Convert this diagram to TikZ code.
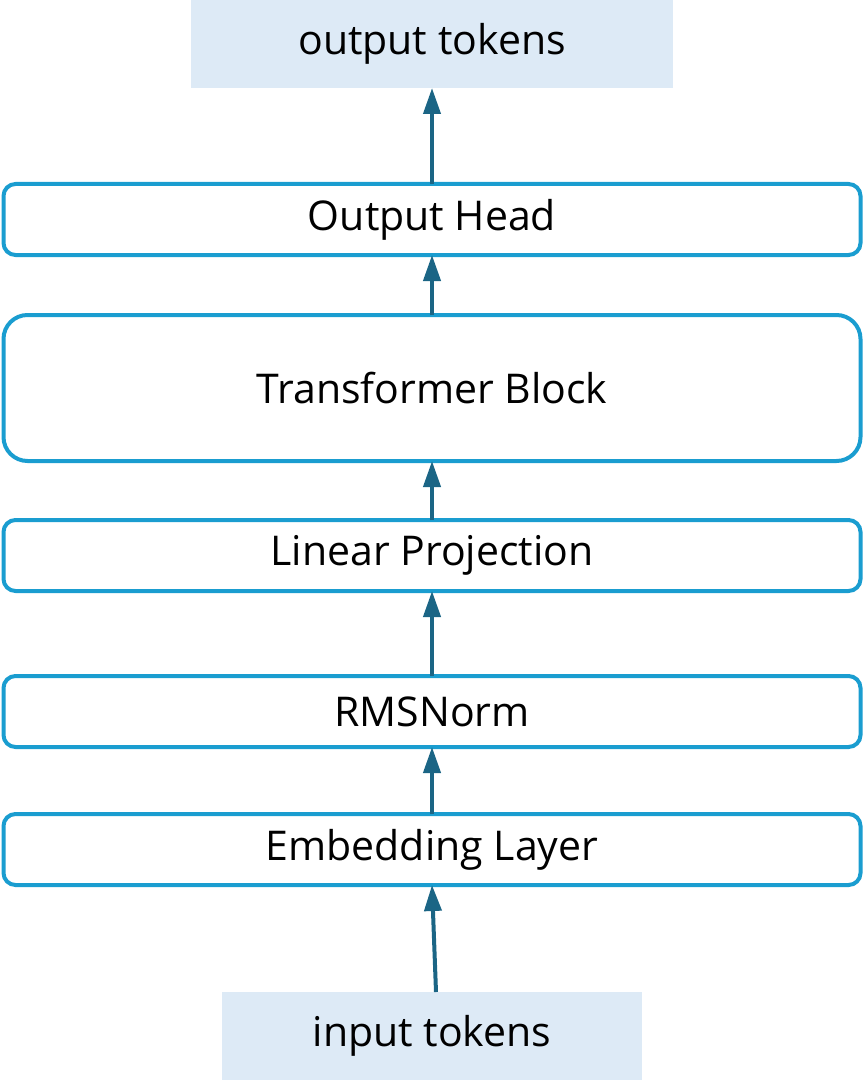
\documentclass[tikz,border=0pt]{standalone}
\usepackage{fontspec}
\setmainfont{Open Sans}
\usepackage{tikz}
\usetikzlibrary{positioning,arrows.meta}
\definecolor{boxline}{HTML}{1A9DD0}
\definecolor{arrowcol}{HTML}{1B6585}
\definecolor{tokfill}{HTML}{DDEAF6}

\begin{document}
\begin{tikzpicture}[x=1pt, y=1pt, outer sep=0pt,
                    token node/.style={fill=tokfill,minimum height=88pt,font=\fontsize{41}{48}\selectfont},
                    layer node/.style={draw=boxline,line width=4pt,rounded corners=12pt,minimum width=857pt,minimum height=71pt,font=\fontsize{41}{48}\selectfont},
                    flow/.style={draw=arrowcol,line width=4pt,-{Triangle[length=26pt,width=17pt]}}]

   \useasboundingbox (0,0) rectangle (865,-1091);

   \node[token node, minimum width=482pt] (out) at (432,-44) {output tokens};
   \node[layer node] (head) [below=96pt of out.south, anchor=north] {Output Head};
   \node[layer node, minimum height=146pt, rounded corners=24pt] (trans) [below=60pt of head.south, anchor=north] {Transformer Block};
   \node[layer node] (proj) [below=59pt of trans.south, anchor=north] {Linear Projection};
   \node[layer node] (norm) [below=85pt of proj.south, anchor=north] {RMSNorm};
   \node[layer node] (emb) [below=67pt of norm.south, anchor=north] {Embedding Layer};
   \node[token node, minimum width=420pt] (in) [below=107pt of emb.south, anchor=north] {input tokens};

  \path[every edge/.style={flow}]
    ([xshift=4pt]in.north) edge (emb.south)
    (emb.north) edge (norm.south)
    (norm.north) edge (proj.south)
    (proj.north) edge (trans.south)
    (trans.north) edge (head.south)
    (head.north) edge (out.south);

\end{tikzpicture}
\end{document}
